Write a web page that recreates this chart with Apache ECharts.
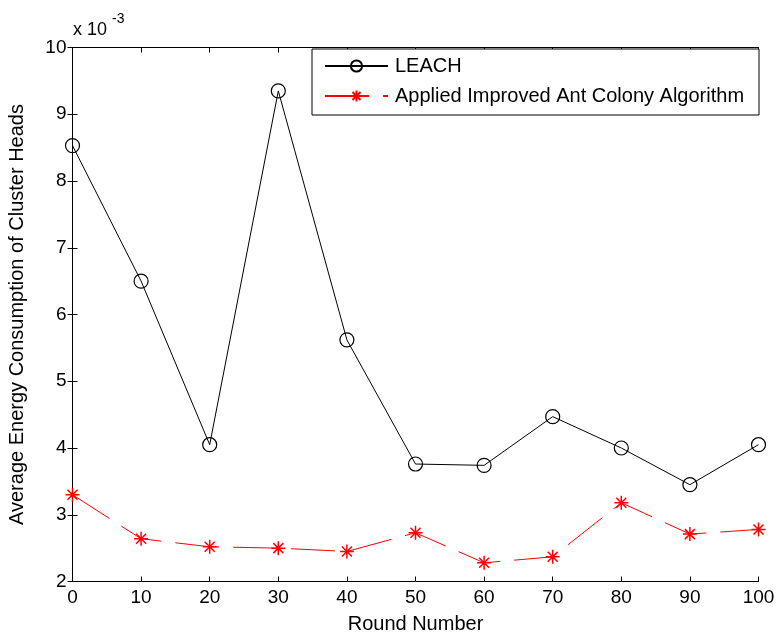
<!DOCTYPE html>
<html>
<head>
<meta charset="utf-8">
<script src="https://cdn.jsdelivr.net/npm/echarts@6/dist/echarts.min.js"></script>
<style>
html,body{margin:0;padding:0;background:#fff;}
#c{width:777px;height:634px;}
</style>
</head>
<body>
<div id="c"></div>
<script>
// Data (energy values in units of 1e-3)
var rounds = [0, 10, 20, 30, 40, 50, 60, 70, 80, 90, 100];
var leach = [8.53, 6.50, 4.05, 9.35, 5.62, 3.76, 3.74, 4.47, 4.00, 3.45, 4.05];
var improved = [3.30, 2.64, 2.52, 2.50, 2.45, 2.73, 2.28, 2.37, 3.18, 2.71, 2.78];
var seriesNames = ['LEACH', 'Applied Improved Ant Colony Algorithm'];
var xTicks = [0, 10, 20, 30, 40, 50, 60, 70, 80, 90, 100];
var yTicks = [2, 3, 4, 5, 6, 7, 8, 9, 10];

function pairs(xs, ys) { return xs.map(function (x, i) { return [x, ys[i]]; }); }

var FONT = '"Liberation Sans", Arial, sans-serif';
var chart = echarts.init(document.getElementById('c'), null, { renderer: 'canvas' });
var star = 'path://M0,-7L0,7M-7,0L7,0M-5,-5L5,5M-5,5L5,-5';

var gridL = 72.5, gridR = 18.5, gridT = 47.5, gridB = 52.5;

function axisCommon(show) {
  return {
    axisLine: { show: true, lineStyle: { color: '#000', width: 1 } },
    axisTick: { show: true, inside: true, length: 5, lineStyle: { color: '#000', width: 1 } },
    axisLabel: { show: show, color: '#000', fontSize: 19, fontFamily: FONT },
    splitLine: { show: false }
  };
}

var option = {
  backgroundColor: '#fff',
  animation: false,
  grid: { left: gridL, right: gridR, top: gridT, bottom: gridB, containLabel: false, outerBoundsMode: 'none' },
  xAxis: [
    Object.assign({
      type: 'value', position: 'bottom', min: xTicks[0], max: xTicks[xTicks.length - 1], interval: 10,
      name: 'Round Number', nameLocation: 'middle', nameGap: 33,
      nameTextStyle: { color: '#000', fontSize: 20, fontFamily: FONT }
    }, axisCommon(true), { axisLabel: { show: true, color: '#000', fontSize: 19, fontFamily: FONT, margin: 7 } }),
    Object.assign({
      type: 'value', position: 'top', min: xTicks[0], max: xTicks[xTicks.length - 1], interval: 10
    }, axisCommon(false))
  ],
  yAxis: [
    Object.assign({
      type: 'value', position: 'left', min: yTicks[0], max: yTicks[yTicks.length - 1], interval: 1,
      name: 'Average Energy Consumption of Cluster Heads', nameLocation: 'middle', nameGap: 45, nameRotate: 90,
      nameTextStyle: { color: '#000', fontSize: 20, fontFamily: FONT }
    }, axisCommon(true), { axisLabel: { show: true, color: '#000', fontSize: 19, fontFamily: FONT, margin: 6 } }),
    Object.assign({
      type: 'value', position: 'right', min: yTicks[0], max: yTicks[yTicks.length - 1], interval: 1
    }, axisCommon(false))
  ],
  legend: {
    orient: 'vertical', left: 318, top: 56, itemWidth: 63, itemHeight: 14, itemGap: 10,
    padding: [0, 0, 0, 6],
    textStyle: { color: '#000', fontSize: 20, fontFamily: FONT, padding: [0, 0, 0, 2] },
    data: seriesNames,
    z: 10
  },
  graphic: [
    { type: 'rect', z: 5, shape: { x: 312, y: 49, width: 447, height: 66 },
      style: { fill: '#fff', stroke: '#000', lineWidth: 1 } },
    { type: 'text', left: 73, top: 21, style: { text: 'x 10', fontSize: 18, fontFamily: FONT, fill: '#000' } },
    { type: 'text', left: 112, top: 12, style: { text: '-3', fontSize: 14, fontFamily: FONT, fill: '#000' } }
  ],
  series: [
    {
      name: seriesNames[0], type: 'line', data: pairs(rounds, leach),
      symbol: 'circle', symbolSize: 14,
      lineStyle: { color: '#000', width: 1 },
      itemStyle: { color: 'rgba(0,0,0,0)', borderColor: '#000', borderWidth: 1.2 },
      emphasis: { disabled: true }
    },
    {
      name: seriesNames[1], type: 'line', data: pairs(rounds, improved),
      symbol: star, symbolSize: 14,
      lineStyle: { color: '#ff0000', width: 1, type: [44, 14] },
      itemStyle: { color: '#ff0000', borderColor: '#ff0000', borderWidth: 1.5 },
      emphasis: { disabled: true }
    }
  ]
};
chart.setOption(option);
</script>
</body>
</html>
